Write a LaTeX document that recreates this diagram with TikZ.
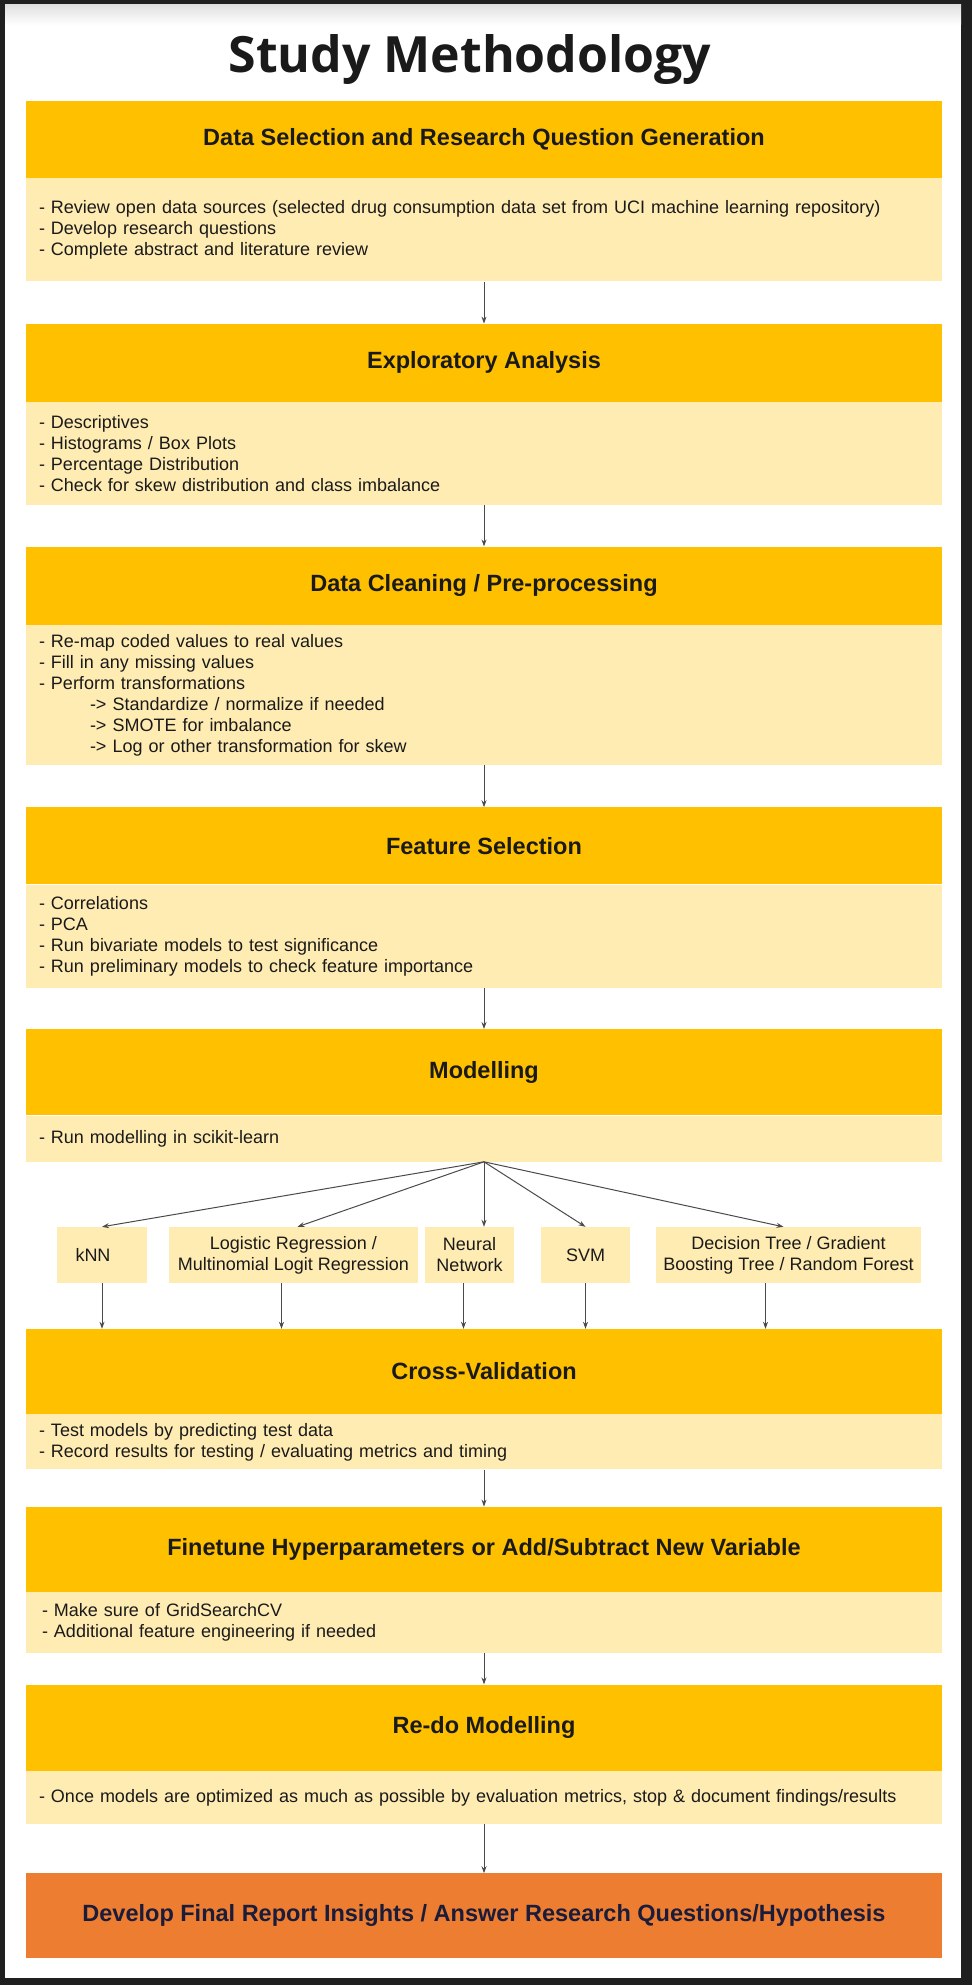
\documentclass[tikz,border=0pt]{standalone}
\usepackage{fontspec}
\setmainfont{Liberation Sans}
\newfontfamily\headline{Open Sans}
\usetikzlibrary{arrows.meta,positioning}
\definecolor{ink}{HTML}{1A1A1A}
\definecolor{navy}{HTML}{1B1B3A}
\definecolor{frame}{HTML}{1F1F1F}
\definecolor{amber}{HTML}{FFC000}
\definecolor{paleAmber}{HTML}{FFECB3}
\definecolor{finalOrange}{HTML}{ED7D31}
\definecolor{wire}{HTML}{4A4A4A}
\tikzset{
  base/.style={text=ink, inner sep=0pt},
  title/.style={base, font=\headline\bfseries\fontsize{50}{56}\selectfont},
  head/.style={base, fill=amber, minimum width=916, align=center, font=\bfseries\fontsize{23.5}{27}\selectfont},
  body/.style={base, fill=paleAmber, minimum width=916, text width=890pt, inner xsep=13pt, align=left, font=\fontsize{18}{21}\selectfont},
  final/.style={head, fill=finalOrange, text=navy},
  model/.style={base, fill=paleAmber, align=center, minimum height=56, font=\fontsize{18}{21}\selectfont},
  arrow/.style={-{Stealth[length=7pt,width=5pt]}, line width=1pt, draw=wire},
}
\newcommand{\sub}{\hspace*{51pt}}

\begin{document}
\begin{tikzpicture}[x=1pt,y=-1pt]
  % screenshot frame
  \fill[frame] (0,0) rectangle (972,1985);
  \fill[white] (5,5) rectangle (961,1978);
  \shade[top color=black!12, bottom color=white] (5,5) rectangle (961,25);
  \useasboundingbox (0,0) rectangle (972,1985);

  \node[title,anchor=base] (ttl) at (470,73) {Study Methodology};

  \node[head,minimum height=77] (h1) at (484,139.5) {Data Selection and Research Question Generation};
  \node[body,minimum height=103,below=0pt of h1] (b1) {- Review open data sources (selected drug consumption data set from UCI machine learning repository)\\- Develop research questions\\- Complete abstract and literature review};

  \node[head,minimum height=78,below=42pt of b1] (h2) {Exploratory Analysis};
  \node[body,minimum height=103,below=0pt of h2] (b2) {- Descriptives\\- Histograms / Box Plots\\- Percentage Distribution\\- Check for skew distribution and class imbalance};

  \node[head,minimum height=78,below=41pt of b2] (h3) {Data Cleaning / Pre-processing};
  \node[body,minimum height=140,below=0pt of h3] (b3) {- Re-map coded values to real values\\- Fill in any missing values\\- Perform transformations\\\sub-> Standardize / normalize if needed\\\sub-> SMOTE for imbalance\\\sub-> Log or other transformation for skew};

  \node[head,minimum height=77,below=42pt of b3] (h4) {Feature Selection};
  \node[body,minimum height=103,below=0pt of h4] (b4) {- Correlations\\- PCA\\- Run bivariate models to test significance\\- Run preliminary models to check feature importance};

  \node[head,minimum height=86,below=41pt of b4] (h5) {Modelling};
  \node[body,minimum height=46,below=0pt of h5] (b5) {- Run modelling in scikit-learn};
  \coordinate (fan) at (b5.south);

  % candidate models
  \node[model,minimum width=90] (knn) at (102,1255) {kNN\hspace*{18pt}};
  \node[model,minimum width=249] (logit) at (293.5,1255) {Logistic Regression /\\Multinomial Logit Regression};
  \node[model,minimum width=89] (nnet) at (469.5,1255) {Neural\\Network};
  \node[model,minimum width=89] (svm) at (585.5,1255) {SVM};
  \node[model,minimum width=265] (tree) at (788.5,1255) {Decision Tree / Gradient\\Boosting Tree / Random Forest};

  \draw[arrow] (fan) -- (knn.north);
  \draw[arrow] (fan) -- ([xshift=4pt]logit.north);
  \draw[arrow] (fan) -- (nnet.north -| fan);
  \draw[arrow] (fan) -- (svm.north);
  \draw[arrow] (fan) -- ([xshift=-5pt]tree.north);

  \node[head,minimum height=85] (h6) at (484,1371.5) {Cross-Validation};
  \node[body,minimum height=55,below=0pt of h6] (b6) {- Test models by predicting test data\\- Record results for testing / evaluating metrics and timing};

  \draw[arrow] (knn.south) -- (knn.south |- h6.north);
  \draw[arrow] ([xshift=-12pt]logit.south) -- ([xshift=-12pt]logit.south |- h6.north);
  \draw[arrow] ([xshift=-6pt]nnet.south) -- ([xshift=-6pt]nnet.south |- h6.north);
  \draw[arrow] (svm.south) -- (svm.south |- h6.north);
  \draw[arrow] ([xshift=-23pt]tree.south) -- ([xshift=-23pt]tree.south |- h6.north);

  \node[head,minimum height=85,below=37pt of b6] (h7) {Finetune Hyperparameters or Add/Subtract New Variable};
  \node[body,minimum height=61,below=0pt of h7] (b7) {\hspace*{3pt}- Make sure of GridSearchCV\\\hspace*{3pt}- Additional feature engineering if needed};

  \node[head,minimum height=86,below=31pt of b7] (h8) {Re-do Modelling};
  \node[body,minimum height=53,below=0pt of h8] (b8) {- Once models are optimized as much as possible by evaluation metrics, stop \& document findings/results};

  \node[final,minimum height=85,below=49pt of b8] (fin) {Develop Final Report Insights / Answer Research Questions/Hypothesis};

  \draw[arrow] (b1.south) -- (h2.north);
  \draw[arrow] (b2.south) -- (h3.north);
  \draw[arrow] (b3.south) -- (h4.north);
  \draw[arrow] (b4.south) -- (h5.north);
  \draw[arrow] (b6.south) -- (h7.north);
  \draw[arrow] (b7.south) -- (h8.north);
  \draw[arrow] (b8.south) -- (fin.north);
\end{tikzpicture}
\end{document}
